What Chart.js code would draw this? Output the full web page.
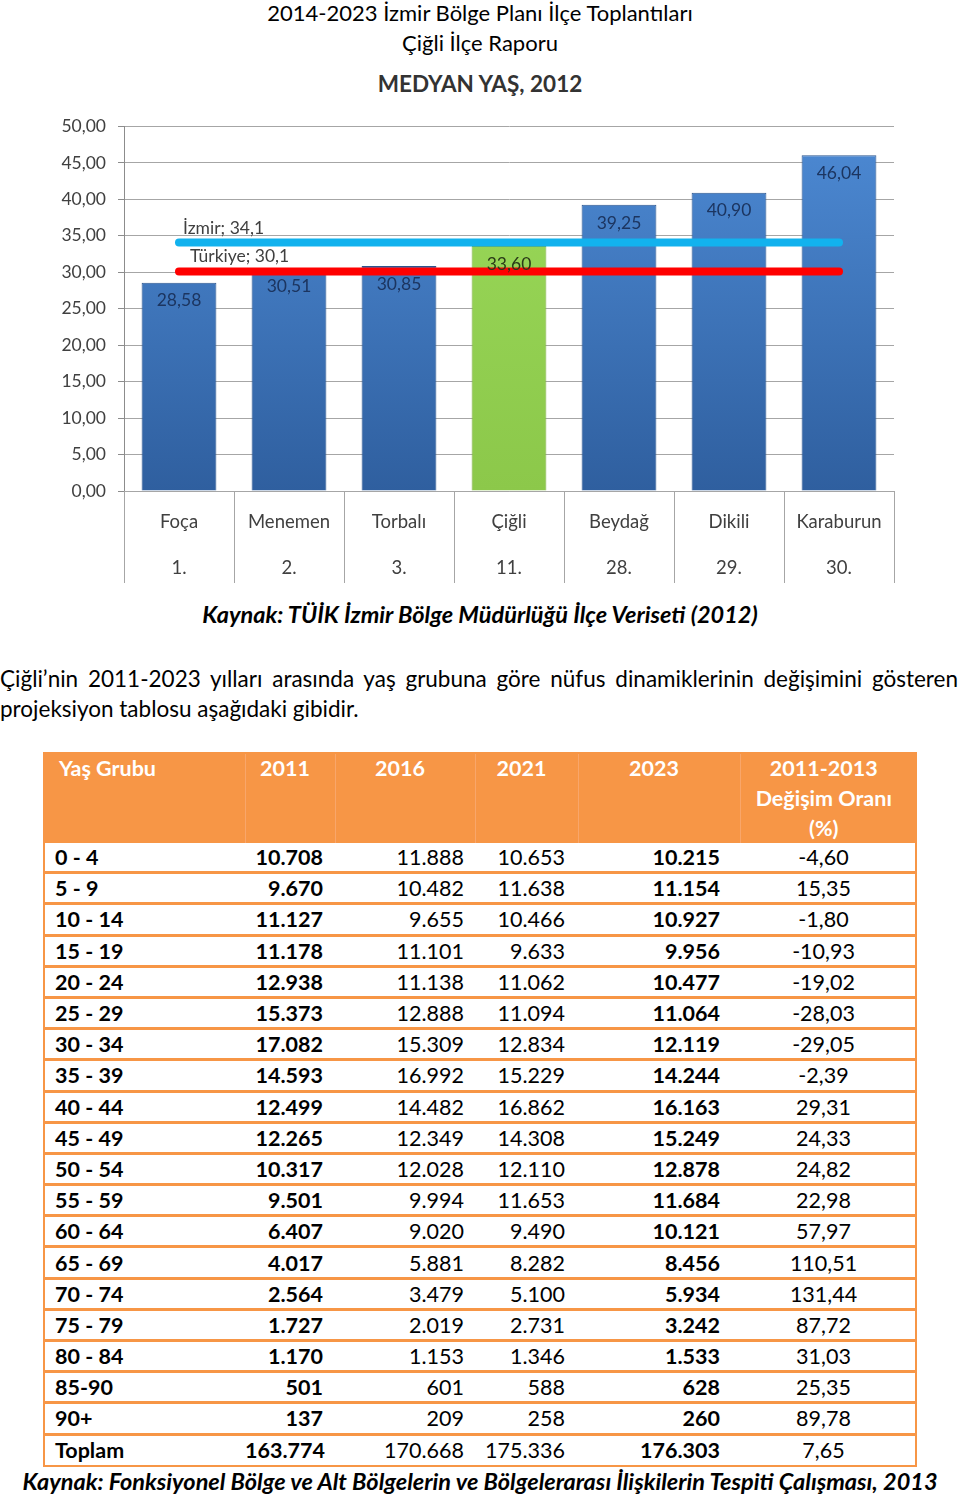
<!DOCTYPE html>
<html>
<head>
<meta charset="utf-8">
<script src="https://cdn.jsdelivr.net/npm/chart.js@4.4.1/dist/chart.umd.min.js"></script>
<style>
  body { margin: 0; background: #fff; font-family: Lato, "Open Sans", sans-serif; color: #000; }
  .page { position: relative; width: 960px; height: 1495px; overflow: hidden; }
  .abs { position: absolute; }
  .head { left: 0; width: 960px; text-align: center; font-size: 22px; line-height: 30px; }
  .chart-title { left: 0; width: 960px; top: 68px; text-align: center; font-size: 22.5px; line-height: 32px; font-weight: bold; color: #333; }
  .caption { left: 0; width: 960px; text-align: center; font-size: 23.5px; line-height: 30px; font-weight: bold; font-style: italic; }
  .para { left: 0; top: 664px; width: 958px; font-size: 22.5px; line-height: 30px; text-align: justify; }
  #tbl { left: 43px; top: 752px; width: 874px; border-collapse: collapse; table-layout: fixed; font-size: 21.5px; }
  #tbl th { background: #f79646; color: #fff; font-weight: bold; vertical-align: top; padding: 1px 10px 0 0; line-height: 30px; height: 89px; border-left: 1px solid #f9a66a; font-size: 21.5px; }
  #tbl th:first-child { text-align: left; padding-left: 16px; border-left: none; }
  #tbl td { height: 28.2px; padding: 0; border-top: 3px solid #f79646; line-height: 28px; white-space: nowrap; }
  #tbl tr:first-child td { border-top: none; }
  #tbl td.c0 { font-weight: bold; text-align: left; padding-left: 12px; }
  #tbl td.num { text-align: right; }
  #tbl td.b { font-weight: bold; }
  #tbl td.ctr { text-align: center; padding-right: 10px; }
  .tblwrap { left: 43px; top: 752px; width: 870px; height: 711px; border: 2px solid #f79646; }
</style>
</head>
<body>
<div class="page">
  <div class="abs head" style="top:-2px">2014-2023 İzmir Bölge Planı İlçe Toplantıları</div>
  <div class="abs head" style="top:28px">Çiğli İlçe Raporu</div>
  <div class="abs chart-title">MEDYAN YAŞ, 2012</div>
  <div class="abs" style="left:40px; top:104px; width:870px; height:486px;">
    <canvas id="chart" width="870" height="486"></canvas>
  </div>
  <div class="abs caption" style="top:599px">Kaynak: TÜİK İzmir Bölge Müdürlüğü İlçe Veriseti (2012)</div>
  <div class="abs para">Çiğli’nin 2011-2023 yılları arasında yaş grubuna göre nüfus dinamiklerinin değişimini gösteren projeksiyon tablosu aşağıdaki gibidir.</div>
  <table id="tbl" class="abs">
    <colgroup>
      <col style="width:202px"><col style="width:90px"><col style="width:140px">
      <col style="width:103px"><col style="width:162px"><col style="width:177px">
    </colgroup>
    <thead>
      <tr>
        <th>Yaş Grubu</th>
        <th>2011</th>
        <th>2016</th>
        <th>2021</th>
        <th>2023</th>
        <th>2011-2013<br>Değişim Oranı<br>(%)</th>
      </tr>
    </thead>
    <tbody id="tbody"></tbody>
  </table>
  <div class="abs tblwrap"></div>
  <div class="abs caption" style="top:1466px">Kaynak: Fonksiyonel Bölge ve Alt Bölgelerin ve Bölgelerarası İlişkilerin Tespiti Çalışması, 2013</div>
</div>

<script>
// chart data
const districts = ['Foça', 'Menemen', 'Torbalı', 'Çiğli', 'Beydağ', 'Dikili', 'Karaburun'];
const ranks = ['1.', '2.', '3.', '11.', '28.', '29.', '30.'];
const medianAge = [28.58, 30.51, 30.85, 33.60, 39.25, 40.90, 46.04];
const izmirAge = 34.1;
const turkiyeAge = 30.1;
const highlight = 'Çiğli';

// table data
const ageGroups = ['0 - 4', '5 - 9', '10 - 14', '15 - 19', '20 - 24', '25 - 29', '30 - 34', '35 - 39', '40 - 44', '45 - 49',
  '50 - 54', '55 - 59', '60 - 64', '65 - 69', '70 - 74', '75 - 79', '80 - 84', '85-90', '90+', 'Toplam'];
const pop2011 = ['10.708', '9.670', '11.127', '11.178', '12.938', '15.373', '17.082', '14.593', '12.499', '12.265',
  '10.317', '9.501', '6.407', '4.017', '2.564', '1.727', '1.170', '501', '137', '163.774'];
const pop2016 = ['11.888', '10.482', '9.655', '11.101', '11.138', '12.888', '15.309', '16.992', '14.482', '12.349',
  '12.028', '9.994', '9.020', '5.881', '3.479', '2.019', '1.153', '601', '209', '170.668'];
const pop2021 = ['10.653', '11.638', '10.466', '9.633', '11.062', '11.094', '12.834', '15.229', '16.862', '14.308',
  '12.110', '11.653', '9.490', '8.282', '5.100', '2.731', '1.346', '588', '258', '175.336'];
const pop2023 = ['10.215', '11.154', '10.927', '9.956', '10.477', '11.064', '12.119', '14.244', '16.163', '15.249',
  '12.878', '11.684', '10.121', '8.456', '5.934', '3.242', '1.533', '628', '260', '176.303'];
const changeRate = ['-4,60', '15,35', '-1,80', '-10,93', '-19,02', '-28,03', '-29,05', '-2,39', '29,31', '24,33',
  '24,82', '22,98', '57,97', '110,51', '131,44', '87,72', '31,03', '25,35', '89,78', '7,65'];

// build the table
const tbody = document.getElementById('tbody');
ageGroups.forEach((g, i) => {
  const tr = document.createElement('tr');
  tr.innerHTML = `<td class="c0">${g}</td>
    <td class="num b" style="padding-right:12px">${pop2011[i]}</td>
    <td class="num" style="padding-right:11px">${pop2016[i]}</td>
    <td class="num" style="padding-right:13px">${pop2021[i]}</td>
    <td class="num b" style="padding-right:20px">${pop2023[i]}</td>
    <td class="ctr">${changeRate[i]}</td>`;
  tbody.appendChild(tr);
});

const fontFamily = 'Lato, "Open Sans", sans-serif';
const fmt = v => v.toFixed(2).replace('.', ',');

function barFill(context) {
  const chart = context.chart;
  const area = chart.chartArea;
  if (!area) return '#3c72b8';
  const g = chart.ctx.createLinearGradient(0, area.top, 0, area.bottom);
  if (districts[context.dataIndex] === highlight) {
    g.addColorStop(0, '#9ad95a');
    g.addColorStop(1, '#8cc84a');
  } else {
    g.addColorStop(0, '#4d8ad4');
    g.addColorStop(1, '#2f5f9f');
  }
  return g;
}

// bar value labels, reference line labels and bottom separators
const extras = {
  id: 'extras',
  afterDatasetsDraw(chart) {
    const { ctx, chartArea, scales } = chart;
    const x = scales.x, y = scales.y;
    ctx.save();
    ctx.font = '17.5px ' + fontFamily;
    ctx.textAlign = 'center';
    ctx.textBaseline = 'middle';
    const bars = chart.getDatasetMeta(2).data;
    bars.forEach((bar, i) => {
      ctx.fillStyle = districts[i] === highlight ? '#2a3a18' : '#1c3560';
      ctx.fillText(fmt(medianAge[i]), bar.x, bar.y + 18);
    });
    ctx.textAlign = 'left';
    ctx.fillStyle = '#404040';
    const x0 = x.getPixelForValue(0);
    ctx.fillText('İzmir; ' + String(izmirAge).replace('.', ','), x0 + 4, y.getPixelForValue(izmirAge) - 14);
    ctx.fillText('Türkiye; ' + String(turkiyeAge).replace('.', ','), x0 + 11, y.getPixelForValue(turkiyeAge) - 15);

    // category separators below the axis
    ctx.strokeStyle = '#a6a6a6';
    ctx.lineWidth = 1;
    const w = (chartArea.right - chartArea.left) / districts.length;
    for (let i = 0; i <= districts.length; i++) {
      const px = Math.round(chartArea.left + i * w) + 0.5;
      ctx.beginPath();
      ctx.moveTo(px, chartArea.bottom);
      ctx.lineTo(px, chartArea.bottom + 92);
      ctx.stroke();
    }
    ctx.restore();
  }
};

const ctx = document.getElementById('chart').getContext('2d');
new Chart(ctx, {
  data: {
    labels: districts.map((d, i) => [d, '', ranks[i]]),
    datasets: [
      {
        type: 'line',
        label: 'İzmir',
        data: districts.map(() => izmirAge),
        borderColor: '#12b2ee',
        borderWidth: 8,
        borderCapStyle: 'round',
        pointRadius: 0,
        order: 0
      },
      {
        type: 'line',
        label: 'Türkiye',
        data: districts.map(() => turkiyeAge),
        borderColor: '#ff0000',
        borderWidth: 8,
        borderCapStyle: 'round',
        pointRadius: 0,
        order: 0
      },
      {
        type: 'bar',
        label: 'Medyan yaş',
        data: medianAge,
        backgroundColor: barFill,
        borderColor: ctx => districts[ctx.dataIndex] === highlight ? '#7dae40' : '#2b558e',
        borderWidth: 1,
        barPercentage: 0.68,
        categoryPercentage: 1,
        order: 1
      }
    ]
  },
  options: {
    responsive: false,
    animation: false,
    devicePixelRatio: 1,
    layout: { padding: { top: 4, right: 16, bottom: 7, left: 0 } },
    plugins: { legend: { display: false }, tooltip: { enabled: false }, title: { display: false } },
    scales: {
      x: {
        offset: true,
        afterFit: s => { s.height = 92; },
        grid: { display: false, drawTicks: false },
        border: { color: '#a6a6a6' },
        ticks: {
          color: '#404040',
          padding: 20,
          font: { family: fontFamily, size: 18.5, lineHeight: '23px' },
          maxRotation: 0
        }
      },
      y: {
        min: 0,
        max: 50,
        afterFit: s => { s.width = 84; },
        grid: {
          color: '#a6a6a6',
          borderDash: [5, 3],
          tickLength: 6,
          tickBorderDash: [],
          tickColor: '#8c8c8c'
        },
        border: { color: '#8c8c8c', dash: [] },
        ticks: {
          stepSize: 5,
          color: '#404040',
          padding: 12,
          font: { family: fontFamily, size: 17.5 },
          callback: v => fmt(v)
        }
      }
    }
  },
  plugins: [extras]
});
</script>
</body>
</html>
